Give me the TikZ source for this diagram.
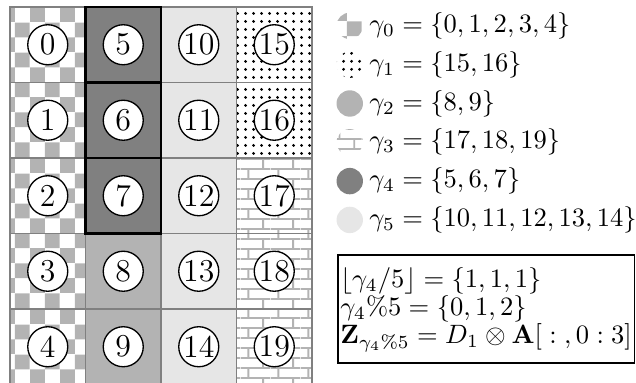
\documentclass[tikz,border=0pt]{standalone}
\usepackage{amsmath,amssymb}
\usepackage{tikz}
\usetikzlibrary{patterns,positioning}
\definecolor{mdark}{HTML}{808080}
\definecolor{mmid}{HTML}{B3B3B3}
\definecolor{mlight}{HTML}{E6E6E6}
\definecolor{mgrid}{HTML}{808080}
% fill patterns for the index cells
\pgfdeclarepatternformonly{pchk}{\pgfpointorigin}{\pgfpoint{0.4cm}{0.4cm}}{\pgfpoint{0.4cm}{0.4cm}}{%
  \pgfpathrectangle{\pgfpointorigin}{\pgfpoint{0.2cm}{0.2cm}}%
  \pgfpathrectangle{\pgfpoint{0.2cm}{0.2cm}}{\pgfpoint{0.2cm}{0.2cm}}%
  \pgfusepath{fill}}
\pgfdeclarepatternformonly{pdots}{\pgfpointorigin}{\pgfpoint{0.1cm}{0.1cm}}{\pgfpoint{0.1cm}{0.1cm}}{%
  \pgfpathcircle{\pgfpoint{0.05cm}{0.05cm}}{0.6pt}%
  \pgfusepath{fill}}
\pgfdeclarepatternformonly{pbrk}{\pgfpointorigin}{\pgfpoint{0.4cm}{0.264cm}}{\pgfpoint{0.4cm}{0.264cm}}{%
  \pgfsetlinewidth{0.7pt}%
  \pgfpathmoveto{\pgfpoint{0cm}{0.066cm}}\pgfpathlineto{\pgfpoint{0.4cm}{0.066cm}}%
  \pgfpathmoveto{\pgfpoint{0cm}{0.198cm}}\pgfpathlineto{\pgfpoint{0.4cm}{0.198cm}}%
  \pgfpathmoveto{\pgfpoint{0.1cm}{0.066cm}}\pgfpathlineto{\pgfpoint{0.1cm}{0.198cm}}%
  \pgfpathmoveto{\pgfpoint{0.3cm}{0.198cm}}\pgfpathlineto{\pgfpoint{0.3cm}{0.264cm}}%
  \pgfpathmoveto{\pgfpoint{0.3cm}{0cm}}\pgfpathlineto{\pgfpoint{0.3cm}{0.066cm}}%
  \pgfusepath{stroke}}
\tikzset{
  cell/.style={draw=mgrid, line width=0.7pt, minimum size=1cm, inner sep=0pt},
  cchk/.style={cell, pattern=pchk, pattern color=mmid},
  cdot/.style={cell, pattern=pdots},
  cbrk/.style={cell, pattern=pbrk, pattern color=mmid},
  cdrk/.style={cell, fill=mdark, draw=black, line width=1pt},
  cmid/.style={cell, fill=mmid},
  clgt/.style={cell, fill=mlight},
  num/.style ={circle, draw, fill=white, line width=0.5pt, minimum size=5.3mm,
               inner sep=0pt, font=\large},
  key/.style ={circle, minimum size=3.5mm, inner sep=0pt},
  gam/.style ={inner xsep=2pt},
}

\begin{document}
\begin{tikzpicture}
\useasboundingbox (-0.1325,0.0927) rectangle (8.2915,-4.98);

\node[cchk] (n0) at (0.5,-0.5) {}; \node[num] at (n0) {0};
\node[cchk] (n1) at (0.5,-1.5) {}; \node[num] at (n1) {1};
\node[cchk] (n2) at (0.5,-2.5) {}; \node[num] at (n2) {2};
\node[cchk] (n3) at (0.5,-3.5) {}; \node[num] at (n3) {3};
\node[cchk] (n4) at (0.5,-4.5) {}; \node[num] at (n4) {4};
\node[cmid] (n8) at (1.5,-3.5) {}; \node[num] at (n8) {8};
\node[cmid] (n9) at (1.5,-4.5) {}; \node[num] at (n9) {9};
\node[clgt] (n10) at (2.5,-0.5) {}; \node[num] at (n10) {10};
\node[clgt] (n11) at (2.5,-1.5) {}; \node[num] at (n11) {11};
\node[clgt] (n12) at (2.5,-2.5) {}; \node[num] at (n12) {12};
\node[clgt] (n13) at (2.5,-3.5) {}; \node[num] at (n13) {13};
\node[clgt] (n14) at (2.5,-4.5) {}; \node[num] at (n14) {14};
\node[cdot] (n15) at (3.5,-0.5) {}; \node[num] at (n15) {15};
\node[cdot] (n16) at (3.5,-1.5) {}; \node[num] at (n16) {16};
\node[cbrk] (n17) at (3.5,-2.5) {}; \node[num] at (n17) {17};
\node[cbrk] (n18) at (3.5,-3.5) {}; \node[num] at (n18) {18};
\node[cbrk] (n19) at (3.5,-4.5) {}; \node[num] at (n19) {19};
% gamma_4 last, so its black frame sits on top
\node[cdrk] (n5) at (1.5,-0.5) {}; \node[num] at (n5) {5};
\node[cdrk] (n6) at (1.5,-1.5) {}; \node[num] at (n6) {6};
\node[cdrk] (n7) at (1.5,-2.5) {}; \node[num] at (n7) {7};

\node[key, pattern=pchk, pattern color=mmid] (k0) at (4.5,-0.25) {};
\node[gam, right=0pt of k0] (g0) {$\gamma_0=\{0,1,2,3,4\}$};
\node[key, pattern=pdots, below=1.5mm of k0] (k1) {};
\node[gam, right=0pt of k1] (g1) {$\gamma_1=\{15,16\}$};
\node[key, fill=mmid, below=1.5mm of k1] (k2) {};
\node[gam, right=0pt of k2] (g2) {$\gamma_2=\{8,9\}$};
\node[key, pattern=pbrk, pattern color=mmid, below=1.5mm of k2] (k3) {};
\node[gam, right=0pt of k3] (g3) {$\gamma_3=\{17,18,19\}$};
\node[key, fill=mdark, below=1.5mm of k3] (k4) {};
\node[gam, right=0pt of k4] (g4) {$\gamma_4=\{5,6,7\}$};
\node[key, fill=mlight, below=1.5mm of k4] (k5) {};
\node[gam, right=0pt of k5] (g5) {$\gamma_5=\{10,11,12,13,14\}$};

\node[draw, line width=0.6pt, inner xsep=1pt, inner ysep=3.8pt, anchor=west] (idx) at (4.33,-4)
  {$\begin{array}{@{}l@{}}
     \lfloor\gamma_4/5\rfloor=\{1,1,1\}\\[-1.5pt]
     \gamma_4\%5=\{0,1,2\}\\[-1.5pt]
     \mathbf{Z}_{\gamma_4\%5}=D_1\otimes\mathbf{A}[\;:\;,0:3]
   \end{array}$};

\end{tikzpicture}
\end{document}
